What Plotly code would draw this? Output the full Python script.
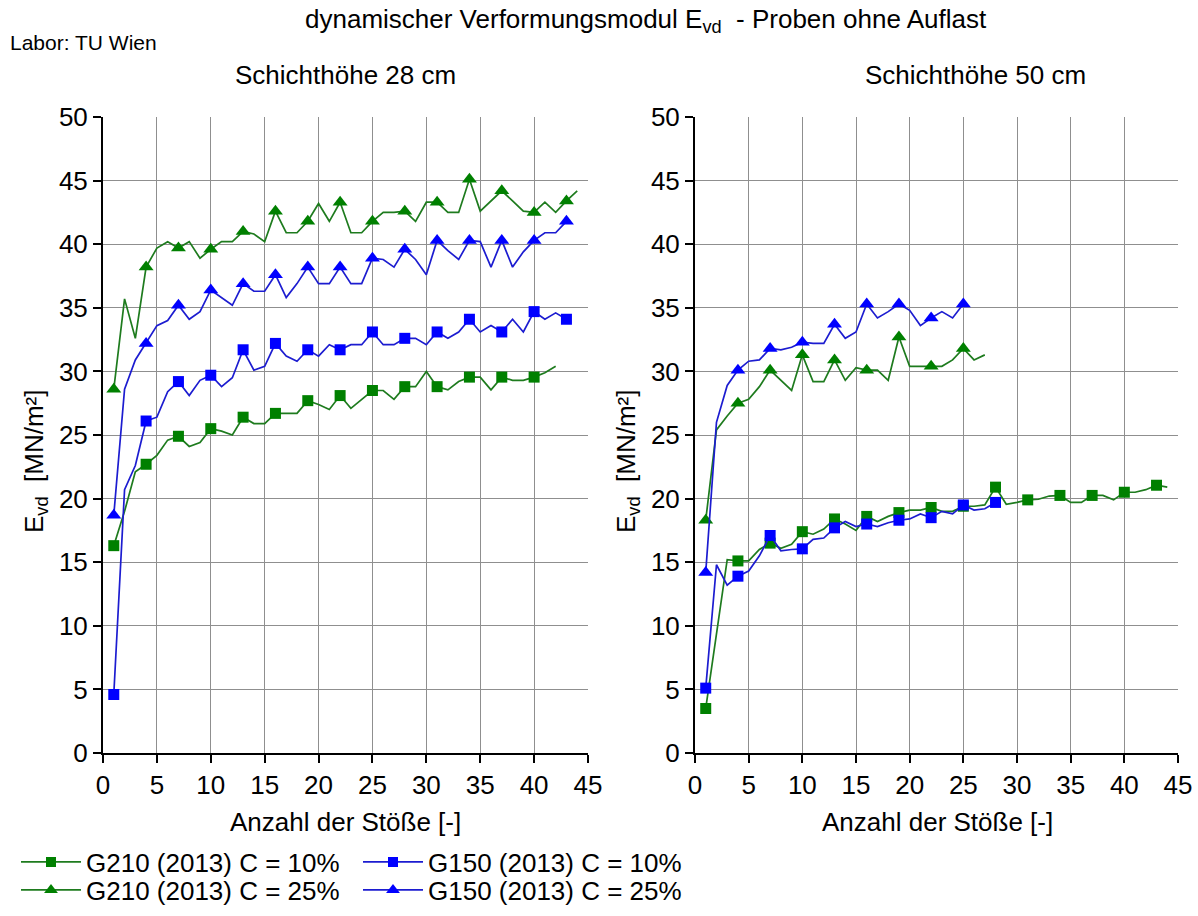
import plotly.graph_objects as go

# ---------------- data ----------------
# Schichthöhe 28 cm
x_g210_10_28 = list(range(1, 43))
g210_10_28 = [16.3, 19.0, 22.1, 22.7, 23.4, 24.6, 24.9, 24.1, 24.4, 25.5, 25.3, 25.0, 26.4, 25.9, 25.9,
              26.7, 26.7, 26.7, 27.7, 27.4, 27.0, 28.1, 27.1, 27.8, 28.5, 28.5, 27.8, 28.8, 28.8, 30.0,
              28.8, 28.55, 29.2, 29.55, 29.55, 28.55, 29.55, 29.3, 29.3, 29.55, 29.9, 30.4]
x_g150_10_28 = list(range(1, 44))
g150_10_28 = [4.6, 20.7, 22.6, 26.1, 26.4, 28.4, 29.2, 28.1, 29.3, 29.7, 28.8, 29.5, 31.7, 30.1, 30.4,
              32.2, 31.2, 30.8, 31.7, 31.2, 32.1, 31.7, 32.1, 32.1, 33.1, 32.1, 32.1, 32.6, 32.6, 32.1,
              33.1, 32.6, 33.1, 34.1, 33.1, 33.6, 33.1, 34.1, 33.1, 34.7, 34.1, 34.6, 34.1]
x_g210_25_28 = list(range(1, 45))
g210_25_28 = [28.6, 35.7, 32.6, 38.2, 39.7, 40.2, 39.7, 40.2, 38.9, 39.6, 40.2, 40.2, 41.0, 40.8, 40.2,
              42.6, 40.9, 40.9, 41.8, 43.2, 41.8, 43.3, 40.9, 40.9, 41.8, 42.5, 42.5, 42.6, 41.8, 43.3,
              43.3, 42.5, 42.5, 45.1, 42.6, 43.4, 44.2, 43.4, 42.6, 42.5, 43.3, 42.5, 43.4, 44.2]
x_g150_25_28 = list(range(1, 44))
g150_25_28 = [18.7, 28.6, 30.9, 32.2, 33.6, 34.0, 35.2, 34.1, 34.7, 36.4, 35.8, 35.2, 36.9, 36.3, 36.3,
              37.6, 35.8, 36.9, 38.2, 36.9, 36.9, 38.2, 36.9, 36.9, 38.9, 38.8, 38.2, 39.6, 38.8, 37.6,
              40.3, 39.5, 38.8, 40.3, 40.2, 38.2, 40.3, 38.2, 39.4, 40.3, 40.9, 40.9, 41.8]

# Schichthöhe 50 cm
x_g210_10_50 = list(range(1, 45))
g210_10_50 = [3.5, 9.4, 15.2, 15.1, 15.1, 16.0, 16.5, 16.1, 16.4, 17.4, 17.2, 17.6, 18.4, 18.0, 17.5,
              18.6, 18.2, 18.6, 18.9, 19.1, 19.1, 19.3, 19.0, 19.0, 19.4, 19.4, 19.5, 20.9, 19.55, 19.7,
              19.9, 19.95, 20.2, 20.25, 19.7, 19.7, 20.25, 20.25, 19.9, 20.5, 20.5, 20.7, 21.05, 20.9]
x_g150_10_50 = list(range(1, 29))
g150_10_50 = [5.1, 14.8, 13.2, 13.9, 14.3, 15.5, 17.1, 15.9, 16.0, 16.05, 16.8, 16.9, 17.7, 18.2, 17.8,
              18.0, 17.8, 18.1, 18.3, 18.4, 18.8, 18.5, 19.0, 18.8, 19.5, 19.1, 19.2, 19.7]
x_g210_25_50 = list(range(1, 28))
g210_25_50 = [18.3, 25.4, 26.5, 27.5, 27.8, 28.8, 30.1, 29.3, 28.5, 31.3, 29.2, 29.2, 30.9, 29.3, 30.3,
              30.1, 30.1, 29.3, 32.7, 30.4, 30.4, 30.4, 30.4, 30.9, 31.8, 30.9, 31.3]
x_g150_25_50 = list(range(1, 26))
g150_25_50 = [14.2, 26.0, 28.9, 30.1, 30.8, 30.9, 31.8, 31.7, 31.9, 32.3, 32.2, 32.2, 33.7, 32.6, 33.1,
              35.3, 34.2, 34.7, 35.3, 34.8, 33.6, 34.2, 34.7, 34.2, 35.3]

series_names = ["G210 (2013) C = 10%", "G150 (2013) C = 10%",
                "G210 (2013) C = 25%", "G150 (2013) C = 25%"]
x_ticks = [0, 5, 10, 15, 20, 25, 30, 35, 40, 45]
y_ticks = [0, 5, 10, 15, 20, 25, 30, 35, 40, 45, 50]

# ---------------- styles ----------------
GREEN_M, GREEN_L = "#008000", "#1e7b1e"
BLUE_M, BLUE_L = "#0000ff", "#1c1cd0"
FONT = "Liberation Sans, Arial, sans-serif"
W, H = 1198, 916
FS = 26

styles = {
    series_names[0]: dict(mc=GREEN_M, lc=GREEN_L, sym="square", size=11, lsize=10),
    series_names[1]: dict(mc=BLUE_M, lc=BLUE_L, sym="square", size=11, lsize=10),
    series_names[2]: dict(mc=GREEN_M, lc=GREEN_L, sym="triangle-up", size=13, lsize=12),
    series_names[3]: dict(mc=BLUE_M, lc=BLUE_L, sym="triangle-up", size=13, lsize=12),
}

fig = go.Figure()


def add_series(xs, ys, name, xa, ya):
    st = styles[name]
    sizes = [st["size"] if i % 3 == 0 else 0 for i in range(len(xs))]
    fig.add_trace(go.Scatter(
        x=xs, y=ys, mode="lines+markers", name=name, showlegend=False,
        line=dict(color=st["lc"], width=1.7),
        marker=dict(symbol=st["sym"], size=sizes, color=st["mc"], opacity=1, line=dict(width=0)),
        xaxis=xa, yaxis=ya, cliponaxis=False, hoverinfo="skip"))


# left panel
add_series(x_g210_10_28, g210_10_28, series_names[0], "x", "y")
add_series(x_g150_10_28, g150_10_28, series_names[1], "x", "y")
add_series(x_g210_25_28, g210_25_28, series_names[2], "x", "y")
add_series(x_g150_25_28, g150_25_28, series_names[3], "x", "y")
# right panel
add_series(x_g210_10_50, g210_10_50, series_names[0], "x2", "y2")
add_series(x_g150_10_50, g150_10_50, series_names[1], "x2", "y2")
add_series(x_g210_25_50, g210_25_50, series_names[2], "x2", "y2")
add_series(x_g150_25_50, g150_25_50, series_names[3], "x2", "y2")

# legend-only entries, one small legend per entry (2 x 2 grid)
legend_ids = ["legend", "legend2", "legend3", "legend4"]
for name, lid in zip(series_names, legend_ids):
    st = styles[name]
    fig.add_trace(go.Scatter(
        x=[None], y=[None], mode="lines+markers", name=name,
        line=dict(color=st["lc"], width=1.7),
        marker=dict(symbol=st["sym"], size=st["lsize"], color=st["mc"], opacity=1),
        legend=lid, showlegend=True))

xl_dom = [103 / W, 588 / W]
xr_dom = [695 / W, 1178 / W]
y_dom = [(H - 753) / H, (H - 117) / H]

ax_common = dict(
    showgrid=True, gridcolor="#8f8f8f", gridwidth=1.4,
    showline=True, linecolor="black", linewidth=2,
    ticks="outside", ticklen=8, tickwidth=2, tickcolor="black",
    tickfont=dict(family=FONT, size=FS, color="black"),
    zeroline=False, fixedrange=True, automargin=False,
)
over_common = dict(
    showgrid=False, showline=False, zeroline=False, showticklabels=False,
    ticks="inside", ticklen=8, tickwidth=2, tickcolor="black", automargin=False,
    fixedrange=True,
)


def leg(px, py):
    return dict(x=px / W, y=(H - py) / H, xanchor="left", yanchor="middle",
                orientation="v", font=dict(family=FONT, size=FS, color="black"),
                bgcolor="rgba(0,0,0,0)", itemwidth=60, borderwidth=0)


fig.update_layout(
    template="none",
    width=W, height=H,
    margin=dict(l=0, r=0, t=0, b=0, pad=0),
    paper_bgcolor="white", plot_bgcolor="white",
    font=dict(family=FONT, size=FS, color="black"),
    xaxis=dict(domain=xl_dom, range=[0, 45], tickvals=x_ticks, anchor="y", **ax_common),
    yaxis=dict(domain=y_dom, range=[0, 50], tickvals=y_ticks, anchor="x", **ax_common),
    xaxis2=dict(domain=xr_dom, range=[0, 45], tickvals=x_ticks, anchor="y2", **ax_common),
    yaxis2=dict(domain=y_dom, range=[0, 50], tickvals=y_ticks, anchor="x2", **ax_common),
    xaxis3=dict(overlaying="x", anchor="y", range=[0, 45], tickvals=x_ticks, **over_common),
    yaxis3=dict(overlaying="y", anchor="x", range=[0, 50], tickvals=y_ticks, **over_common),
    xaxis4=dict(overlaying="x2", anchor="y2", range=[0, 45], tickvals=x_ticks, **over_common),
    yaxis4=dict(overlaying="y2", anchor="x2", range=[0, 50], tickvals=y_ticks, **over_common),
    legend=leg(16, 862),
    legend2=leg(358, 862),
    legend3=leg(16, 890),
    legend4=leg(358, 890),
    showlegend=True,
    hovermode=False,
)

ann = []
ann.append(dict(text="dynamischer Verformungsmodul E<sub>vd</sub>  - Proben ohne Auflast",
                x=646 / W, y=(H - 20) / H, xref="paper", yref="paper", showarrow=False,
                xanchor="center", yanchor="middle", font=dict(family=FONT, size=FS)))
ann.append(dict(text="Labor: TU Wien", x=8 / W, y=(H - 42) / H, xref="paper", yref="paper",
                showarrow=False, xanchor="left", yanchor="middle", font=dict(family=FONT, size=21)))
ann.append(dict(text="Schichthöhe 28 cm", x=345 / W, y=(H - 75) / H, xref="paper", yref="paper",
                showarrow=False, xanchor="center", yanchor="middle", font=dict(family=FONT, size=FS)))
ann.append(dict(text="Schichthöhe 50 cm", x=975 / W, y=(H - 75) / H, xref="paper", yref="paper",
                showarrow=False, xanchor="center", yanchor="middle", font=dict(family=FONT, size=FS)))
for cx in (345, 937):
    ann.append(dict(text="Anzahl der Stöße [-]", x=cx / W, y=(H - 822) / H, xref="paper", yref="paper",
                    showarrow=False, xanchor="center", yanchor="middle", font=dict(family=FONT, size=FS)))
for cx in (35, 627):
    ann.append(dict(text="E<sub>vd</sub>  [MN/m²]", x=cx / W, y=(H - 462) / H, xref="paper", yref="paper",
                    showarrow=False, xanchor="center", yanchor="middle", textangle=-90,
                    font=dict(family=FONT, size=FS)))
fig.update_layout(annotations=ann)

fig.write_html(
    "out.html",
    config={"displayModeBar": False, "staticPlot": False},
    post_script="document.body.style.margin='0';document.body.style.padding='0';"
                "document.body.style.overflow='hidden';",
)
